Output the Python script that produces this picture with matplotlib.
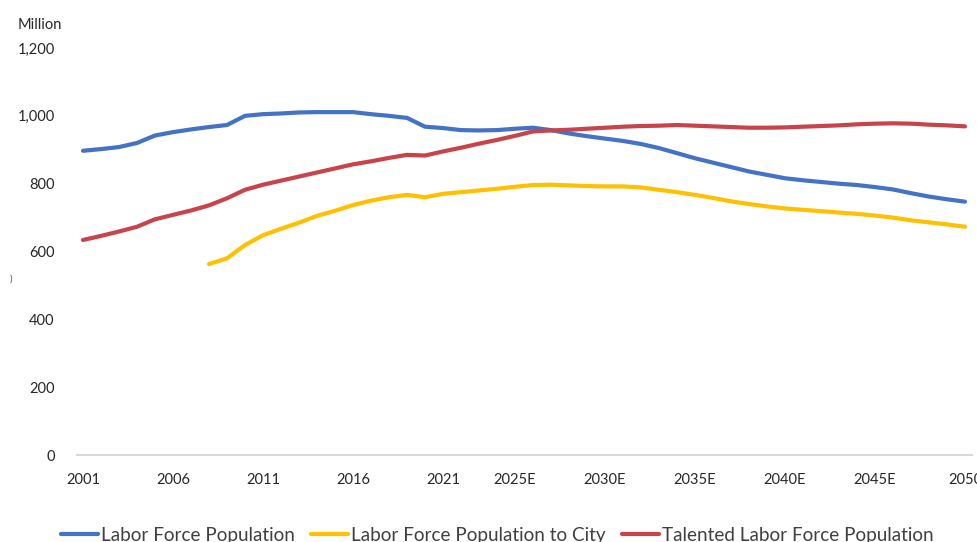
import numpy as np
import matplotlib.pyplot as plt

plt.rcParams['font.family'] = ['Lato', 'DejaVu Sans']

# data (million people)
years = np.arange(2001, 2051)

labor_force = [897, 902, 908, 920, 942, 952, 960, 967, 973, 1000,
               1005, 1007, 1010, 1011, 1011, 1011, 1005, 1000, 994, 968,
               964, 958, 957, 958, 962, 965, 958, 948, 940, 933,
               926, 917, 905, 890, 875, 862, 849, 836, 826, 816,
               810, 805, 800, 796, 790, 783, 772, 762, 754, 747]

to_city = [np.nan] * 7 + [563, 580, 619,
           648, 667, 685, 705, 720, 737, 750, 760, 767, 760,
           770, 775, 780, 785, 791, 796, 797, 795, 793, 792,
           792, 789, 782, 775, 767, 758, 748, 740, 733, 727,
           723, 719, 715, 711, 706, 700, 692, 686, 680, 673]

talented = [634, 646, 659, 673, 695, 708, 721, 736, 757, 782,
            797, 809, 821, 833, 845, 857, 866, 876, 885, 883,
            895, 906, 918, 929, 941, 954, 957, 959, 962, 965,
            968, 970, 971, 973, 971, 969, 967, 965, 965, 966,
            968, 970, 972, 975, 977, 978, 977, 974, 972, 969]

tick_years = [2001, 2006, 2011, 2016, 2021, 2025, 2030, 2035, 2040, 2045, 2050]
tick_labels = ['2001', '2006', '2011', '2016', '2021', '2025E', '2030E',
               '2035E', '2040E', '2045E', '2050']

fig = plt.figure(figsize=(9.77, 5.42), dpi=100)
ax = fig.add_axes([0.0788, 0.1605, 0.9161, 0.7509])

lw = 3.0
ax.plot(years, labor_force, color='#4472C4', lw=lw, solid_capstyle='round',
        solid_joinstyle='round', label='Labor Force Population')
ax.plot(years, to_city, color='#FFC000', lw=lw, solid_capstyle='round',
        solid_joinstyle='round', label='Labor Force Population to City')
ax.plot(years, talented, color='#C8434A', lw=lw, solid_capstyle='round',
        solid_joinstyle='round', label='Talented Labor Force Population')

ax.set_xlim(2000.667, 2050.39)
ax.set_ylim(0, 1200)
ax.set_yticks(range(0, 1201, 200))
ax.set_yticklabels([f'{v:,}' for v in range(0, 1201, 200)])
ax.set_xticks(tick_years)
ax.set_xticklabels(tick_labels)
ax.tick_params(axis='both', length=0, labelsize=10.5, colors='#262626')
ax.tick_params(axis='x', pad=13)
ax.tick_params(axis='y', pad=16)

for side in ['top', 'right', 'left']:
    ax.spines[side].set_visible(False)
ax.spines['bottom'].set_color('#D9D9D9')
ax.spines['bottom'].set_linewidth(1.5)
ax.spines['bottom'].set_zorder(0)

fig.text(18 / 977, 1 - 25 / 542, 'Million', fontsize=10.5, color='#262626', va='center')
fig.text(10 / 977, 1 - 279 / 542, ')', fontsize=7, color='#555555', va='center')

fig.legend(loc='center', bbox_to_anchor=(0.509, 0.012), ncol=3, frameon=False,
           fontsize=13.6, handlelength=1.96, handletextpad=0.16, columnspacing=0.85,
           labelcolor='#404040')

fig.savefig('out.png', dpi=100)
